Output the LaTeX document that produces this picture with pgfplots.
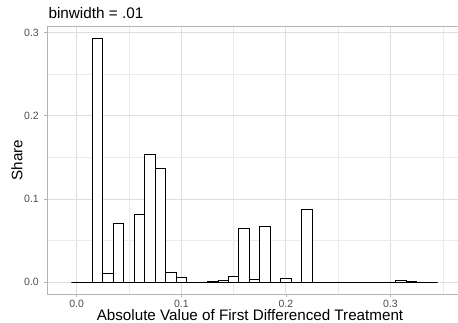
\documentclass[border=0pt]{standalone}
\usepackage{pgfplots}
\pgfplotsset{compat=1.18}
\usepackage{fontspec}
\setmainfont{Liberation Sans}
\definecolor{gridmaj}{HTML}{DEDEDE}
\definecolor{gridmin}{HTML}{EBEBEB}
\definecolor{bordercol}{HTML}{B3B3B3}
\definecolor{ticklab}{HTML}{4D4D4D}
\begin{document}
\begin{tikzpicture}
\begin{axis}[
  scale only axis,
  width=412pt, height=268.3pt,
  xmin=-0.02811, xmax=0.36577,
  ymin=-0.01441, ymax=0.3079,
  xtick={0,0.1,0.2,0.3},
  ytick={0,0.1,0.2,0.3},
  minor xtick={0.05,0.15,0.25,0.35},
  minor ytick={0.05,0.15,0.25},
  grid=both,
  major grid style={color=gridmaj, line width=0.9pt},
  minor grid style={color=gridmin, line width=0.6pt},
  axis line style={color=bordercol, line width=0.8pt},
  tick align=outside,
  major tick length=3pt,
  minor tick length=0pt,
  tick style={color=bordercol, line width=0.8pt},
  xtick pos=bottom, ytick pos=left,
  /pgf/number format/assume math mode=true,
  /pgf/number format/.cd, fixed, fixed zerofill, precision=1, /pgfplots/.cd,
  tick label style={font=\fontsize{10.5}{12}\selectfont, text=ticklab},
  xticklabel style={yshift=0.5pt},
  yticklabel style={xshift=-2pt},
  xlabel={Absolute Value of First Differenced Treatment},
  xlabel style={font=\fontsize{15.2}{18}\selectfont, at={(rel axis cs:0.492,0)}, anchor=base, yshift=-26.5pt},
  clip mode=individual,
]
\addplot[ybar interval, draw=black, fill=white, line width=0.8pt] coordinates {
(-0.005,0) (0.005,0) (0.015,0.2933) (0.025,0.0108) (0.035,0.0709)
(0.045,0) (0.055,0.0817) (0.065,0.1538) (0.075,0.1366) (0.085,0.0116)
(0.095,0.0060) (0.105,0) (0.115,0) (0.125,0.0015) (0.135,0.0026)
(0.145,0.0074) (0.155,0.0649) (0.165,0.0040) (0.175,0.0668) (0.185,0)
(0.195,0.0048) (0.205,0) (0.215,0.0873) (0.225,0) (0.235,0)
(0.245,0) (0.255,0) (0.265,0) (0.275,0) (0.285,0)
(0.295,0) (0.305,0.0020) (0.315,0.0012) (0.325,0) (0.335,0)
(0.345,0)
};
\node[anchor=base west, font=\fontsize{15.3}{18}\selectfont, inner sep=0pt]
  at (rel axis cs:0,1) [yshift=7pt, xshift=1pt] {binwidth = .01};
\end{axis}
\node[font=\fontsize{15.2}{18}\selectfont, rotate=90, anchor=base, inner sep=0pt]
  at (-24.8pt,134.15pt) {Share};
\pgfresetboundingbox
\path[use as bounding box] (-47.3pt,-28.7pt) rectangle (410.7pt,294.3pt);
\end{tikzpicture}
\end{document}
